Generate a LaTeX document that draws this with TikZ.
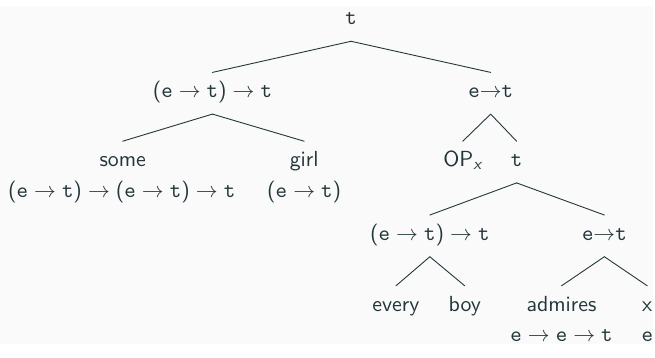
\documentclass[tikz,border=0pt]{standalone}
\renewcommand{\familydefault}{\sfdefault}
\definecolor{treeText}{RGB}{35,55,59}
\definecolor{treeBack}{RGB}{250,250,250}
\newcommand{\tyE}{\texttt{e}}
\newcommand{\tyT}{\texttt{t}}
\newcommand{\tyL}{\textsf{(}}
\newcommand{\tyR}{\textsf{)}}
\begin{document}
\begin{tikzpicture}
% Type tree, coordinates in pixels of the slide
\def\pxsz{0.5pt}
\providecommand{\treeLineWidth}{0.45pt}
\begin{scope}[x=\pxsz, y=-\pxsz, line cap=round, line join=round,
  tnode/.style={text=treeText, font={\fontsize{10.95}{13}\selectfont}, anchor=base, inner xsep=1pt, inner ysep=5.5pt, text height=7pt, text depth=2.5pt},
  edge/.style={draw=treeText, line width=\treeLineWidth}]
  % Background
  \fill[treeBack] (0,0) rectangle (655,339);
  % Root and first level
  \node[tnode] (root) at (352,19) {\tyT};
  \node[tnode] (np) at (213,92) {$\tyL\tyE \to \tyT\tyR \to \tyT$};
  \node[tnode] (rel) at (492,92) {\tyE$\to$\tyT};
  % Subject DP
  \node[tnode] (some) at (123,161) {some};
  \node[tnode] (girl) at (305,161) {girl};
  \node[tnode] (someTy) at (122,192) {$\tyL\tyE \to \tyT\tyR \to \tyL\tyE \to \tyT\tyR \to \tyT$};
  \node[tnode] (girlTy) at (305,192) {$\tyL\tyE \to \tyT\tyR$};
  % Relative clause
  \node[tnode] (op) at (464,161) {OP\textsubscript{\itshape x}};
  \node[tnode] (clause) at (518,161) {\tyT};
  \node[tnode] (obj) at (431,235) {$\tyL\tyE \to \tyT\tyR \to \tyT$};
  \node[tnode] (vp) at (606,235) {\tyE$\to$\tyT};
  \node[tnode] (every) at (397,306) {every};
  \node[tnode] (boy) at (466,306) {boy};
  \node[tnode] (admires) at (563,306) {admires};
  \node[tnode] (var) at (649,306) {x};
  \node[tnode] (admiresTy) at (563,336) {$\tyE \to \tyE \to \tyT$};
  \node[tnode] (varTy) at (649,336) {\tyE};
  % Branches
  \draw[edge] (root.south) -- (np.north);
  \draw[edge] (root.south) -- (rel.north);
  \draw[edge] (np.south) -- (some.north);
  \draw[edge] (np.south) -- (girl.north);
  \draw[edge] (rel.south) -- (op.north);
  \draw[edge] (rel.south) -- (clause.north);
  \draw[edge] (clause.south) -- (obj.north);
  \draw[edge] (clause.south) -- (vp.north);
  \draw[edge] (obj.south) -- (every.north);
  \draw[edge] (obj.south) -- (boy.north);
  \draw[edge] (vp.south) -- (admires.north);
  \draw[edge] (vp.south) -- (var.north);
\end{scope}
\end{tikzpicture}
\end{document}
